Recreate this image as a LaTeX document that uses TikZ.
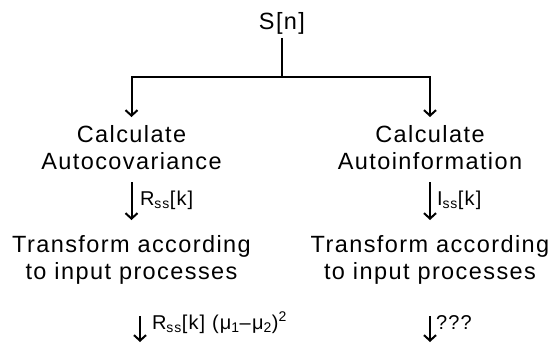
\documentclass[tikz,border=0pt]{standalone}
\usepackage{fontspec}
\setmainfont{Liberation Sans}[LetterSpace=6]
\usetikzlibrary{arrows.meta}
\begin{document}
\begin{tikzpicture}[x=1pt,y=-1pt,
  stage/.style={align=center, inner sep=0pt, outer sep=0pt,
    font=\fontsize{23.5}{27.3}\selectfont},
  lbl/.style={inner sep=0pt, outer sep=0pt, font=\fontsize{20}{24}\selectfont},
  wire/.style={line width=2pt},
  flow/.style={wire, -{Straight Barb[length=5.5pt,width=12pt]}}]
\useasboundingbox (0,0) rectangle (555,343);

% source signal and the two analysis branches
\node[stage, anchor=base]  (src) at (282,29)      {S[n]};
\node[stage, anchor=north] (cov) at (131.5,125.5) {Calculate\\Autocovariance};
\node[stage, anchor=north] (inf) at (430,125.5)   {Calculate\\Autoinformation};
\node[stage, anchor=north] (tr1) at (131.5,235.5) {Transform according\\to input processes};
\node[stage, anchor=north] (tr2) at (430,235.5)   {Transform according\\to input processes};

\coordinate (fork) at (282,77);
\coordinate (end1) at (140,342);
\coordinate (end2) at (430,342);

% quantities passed along each arrow
\node[lbl, anchor=base west] (lcov) at (140,205) {R\textsubscript{ss}[k]};
\node[lbl, anchor=base west] (linf) at (437,205) {I\textsubscript{ss}[k]};
\node[lbl, anchor=base west] (lout1) at (152,329)
  {R\textsubscript{ss}[k] (μ\textsubscript{1}–μ\textsubscript{2})\textsuperscript{2}};
\node[lbl, anchor=base west] (lout2) at (436,329) {???};

% connectors
\draw[wire, shorten <=4pt] (src.south) -- (fork);
\draw[flow, shorten >=8.5pt] (fork) -| (cov.north);
\draw[flow, shorten >=8.5pt] (fork) -| (inf.north);
\draw[flow, shorten <=12.4pt, shorten >=15.5pt] (cov.south) -- (tr1.north);
\draw[flow, shorten <=12.4pt, shorten >=15.5pt] (inf.south) -- (tr2.north);
\draw[flow, shorten <=31.5pt] (tr1.south -| end1) -- (end1);
\draw[flow, shorten <=31.5pt] (tr2.south -| end2) -- (end2);
\end{tikzpicture}
\end{document}
